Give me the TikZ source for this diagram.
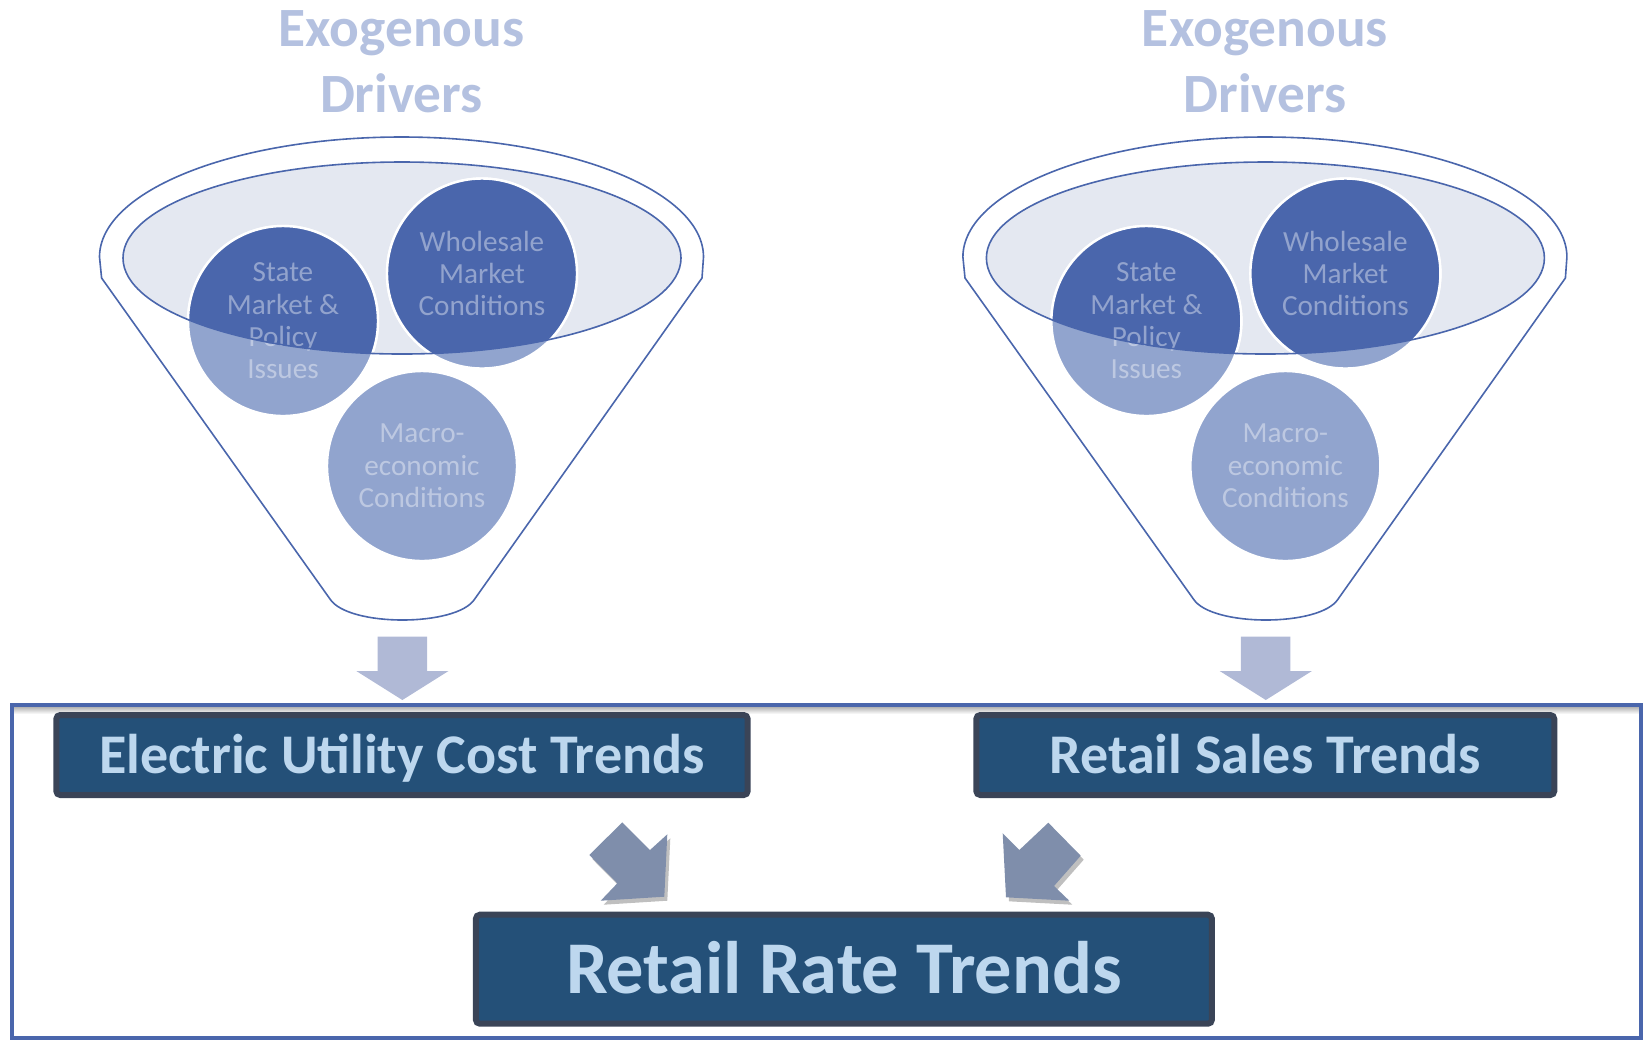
\documentclass[tikz,border=0pt]{standalone}
\usepackage{fontspec}
\setmainfont{Carlito}
\usepackage{tikz}

\begin{document}
\begin{tikzpicture}[x=0.5pt,y=0.5pt,yscale=-1,xscale=1,
  funnelline/.style={draw={rgb, 255:red, 74; green, 102; blue, 172}, line width=0.8pt},
  circlight/.style={fill={rgb, 255:red, 145; green, 164; blue, 206}, draw=white, line width=1.2pt},
  circdark/.style={fill={rgb, 255:red, 74; green, 102; blue, 172}, draw=white, line width=1.2pt},
  circtext/.style={align=center, text=white, text opacity=0.4, font=\fontsize{14.6}{16.2}\selectfont},
  exotitle/.style={align=center, text={rgb, 255:red, 180; green, 193; blue, 224}, font=\bfseries\fontsize{27.7}{33}\selectfont},
  downarrow/.style={fill={rgb, 255:red, 176; green, 185; blue, 214}},
  diagarrow/.style={fill={rgb, 255:red, 127; green, 142; blue, 171}},
  trendbox/.style={draw={rgb, 255:red, 58; green, 68; blue, 87}, line width=3pt, fill={rgb, 255:red, 36; green, 80; blue, 120},
    rounded corners=2pt, inner sep=0pt, text height=21pt, text depth=3pt,
    text={rgb, 255:red, 189; green, 215; blue, 238}, font=\bfseries\fontsize{28}{33}\selectfont}]
\useasboundingbox (0,0) rectangle (1643,1041); %picture is 1643 x 1041 px

\foreach \dx/\s in {0/L,863.4/R}{
\begin{scope}[shift={(\dx,0)}]
%Shape: Funnel
\draw [funnelline]  (99.5,257) -- (101.6,278) -- (330,599) .. controls (348,627) and (457,627) .. (474.7,599) -- (702,278) -- (703.5,257) arc [start angle=0, end angle=-180, x radius=302, y radius=120] -- cycle ;
%Shape: Ellipse
\fill [color={rgb, 255:red, 228; green, 232; blue, 241 }]  (402,258) ellipse [x radius=279, y radius=96] ;
\coordinate (cs\s) at (283,321);
\coordinate (cw\s) at (482,273.5);
\coordinate (cm\s) at (422,466);
%Shape: Circles
\path [circlight] (cs\s) circle [radius=95] ;
\path [circlight] (cw\s) circle [radius=95] ;
\path [circlight] (cm\s) circle [radius=95] ;
\begin{scope}
\clip (402,258) ellipse [x radius=279, y radius=96] ;
\path [circdark] (cs\s) circle [radius=95] ;
\path [circdark] (cw\s) circle [radius=95] ;
\end{scope}
% Text Node
\node [circtext] (state\s) at (cs\s) {State\\Market \&\\Policy\\Issues};
% Text Node
\node [circtext] (whole\s) at (cw\s) {Wholesale\\Market\\Conditions};
% Text Node
\node [circtext] (macro\s) at (cm\s) {Macro-\\economic\\Conditions};
%Shape: Ellipse
\draw [funnelline]  (402,258) ellipse [x radius=279, y radius=96] ;
% Text Node
\node [exotitle] (exo\s) at (401.5,62) {Exogenous\\Drivers};
%Shape: Down Arrow
\fill [downarrow] (377.5,636.5) -- (427,636.5) -- (427,671) -- (448.5,671) -- (402.4,700) -- (356.3,671) -- (377.5,671) -- cycle ;
\end{scope}
}

%Shape: Rectangle
\shade [top color={rgb, 255:red, 170; green, 170; blue, 170}, bottom color=white] (14,706) rectangle (1639,714) ;
\draw [color={rgb, 255:red, 74; green, 102; blue, 172 }, line width=2pt] (12,704.5) rectangle (1640.5,1037.5) ;

% Text Node
\node [trendbox, minimum width=345.7pt, minimum height=40pt] (cost) at (402,755) {Electric Utility Cost Trends};
% Text Node
\node [trendbox, minimum width=289pt, minimum height=40pt] (sales) at (1265.3,755) {Retail Sales Trends};
% Text Node
\node [trendbox, minimum width=368pt, minimum height=54.5pt, text height=28pt, text depth=4pt, font=\bfseries\fontsize{37.2}{44}\selectfont] (rate) at (843.9,969.2) {Retail Rate Trends};

%Shape: Arrows to rate
\fill [black, opacity=0.25] (625.3,826.3) -- (653,854) -- (670.3,838.3) -- (667.3,900.7) -- (603.7,904.7) -- (620.3,887.3) -- (592.3,859) -- cycle ;
\fill [diagarrow] (622.3,822.3) -- (650,850) -- (667.3,834.3) -- (664.3,896.7) -- (600.7,900.7) -- (617.3,883.3) -- (589.3,855) -- cycle ;
\fill [black, opacity=0.25] (1051.3,826.7) -- (1083.7,859.7) -- (1057,890) -- (1072.3,904.7) -- (1009,901.3) -- (1005.7,837.3) -- (1022.3,854) -- cycle ;
\fill [diagarrow] (1048.3,822.7) -- (1080.7,855.7) -- (1054,886) -- (1069.3,900.7) -- (1006,897.3) -- (1002.7,833.3) -- (1019.3,850) -- cycle ;

\end{tikzpicture}
\end{document}
